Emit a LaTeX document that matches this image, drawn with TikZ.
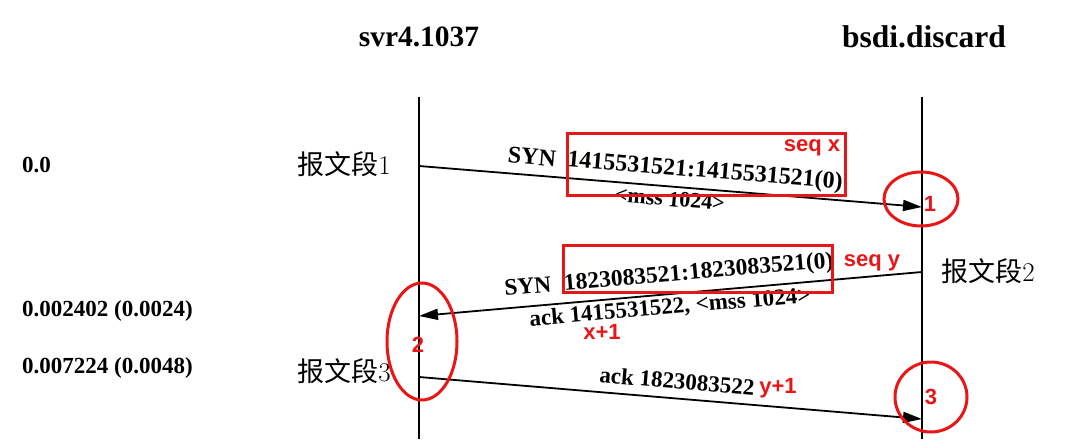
\documentclass[tikz,border=0pt]{standalone}
\usepackage{fontspec}
\newfontfamily\cjk{Noto Sans CJK SC}
\newfontfamily\redsans{Liberation Sans}
\newfontfamily\scan{Liberation Serif}
\usetikzlibrary{arrows.meta,shapes.geometric}
\definecolor{mark}{RGB}{232,22,22}
\begin{document}
\begin{tikzpicture}[x=1pt,y=-1pt,
  lifeline/.style={line width=1.6pt},
  msg/.style={line width=1.8pt,-{Triangle[length=19pt,width=11pt]}},
  hdr/.style={font=\scan\bfseries\fontsize{29.5}{33}\selectfont, inner sep=0},
  tlabel/.style={font=\scan\bfseries\fontsize{23}{26}\selectfont, inner sep=0, anchor=west},
  seglabel/.style={font=\fontsize{27}{31}\selectfont, inner sep=0},
  msglabel/.style={font=\scan\bfseries\fontsize{24}{27}\selectfont, inner sep=0},
  redbox/.style={draw=mark, line width=3pt, inner sep=0},
  redring/.style={draw=mark, line width=3pt, ellipse, inner sep=0},
  redtext/.style={text=mark, font=\redsans\bfseries\fontsize{22}{24}\selectfont, inner sep=0}]
\useasboundingbox (0,0) rectangle (1073,439);

% headers
\node[hdr] (hA) at (419,37) {svr4.1037};
\node[hdr, font=\scan\bfseries\fontsize{31.5}{35}\selectfont] (hB) at (924,37) {bsdi.discard};

% lifelines
\coordinate (Atop) at (419,97);
\coordinate (Abot) at (419,439);
\coordinate (Btop) at (922,97);
\coordinate (Bbot) at (922,439);
\draw[lifeline] (Atop) -- (Abot);
\draw[lifeline] (Btop) -- (Bbot);

% time labels
\node[tlabel] (t1) at (22,165) {0.0};
\node[tlabel] (t2) at (22,311) {0.002402 (0.0024)};
\node[tlabel] (t3) at (22,368) {0.007224 (0.0048)};

% segment labels
\node[seglabel] (s1) at (344,164) {{\cjk 报文段}1};
\node[seglabel] (s2) at (988,271) {{\cjk 报文段}2};
\node[seglabel] (s3) at (344,371) {{\cjk 报文段}3};

% messages
\coordinate (m1s) at (419,166);
\coordinate (m1e) at (922,207);
\coordinate (m2s) at (922,272);
\coordinate (m2e) at (419,316);
\coordinate (m3s) at (419,377);
\coordinate (m3e) at (922,419);
\draw[msg] (m1s) -- (m1e);
\draw[msg] (m2s) -- (m2e);
\draw[msg] (m3s) -- (m3e);

% message labels
\node[msglabel, rotate=-4.7] (l1a) at (532,157) {SYN};
\node[msglabel, rotate=-4.7] (l1b) at (705,172) {1415531521:1415531521(0)};
\node[msglabel, rotate=-4.7, font=\scan\bfseries\fontsize{22}{25}\selectfont] (l1c) at (670,199) {<mss 1024>};
\node[msglabel, rotate=4.9, font=\scan\bfseries\fontsize{23.5}{27}\selectfont] (l2a) at (669,276) {SYN\hspace{0.55em}1823083521:1823083521(0)};
\node[msglabel, rotate=4.9, font=\scan\bfseries\fontsize{23}{26}\selectfont] (l2b) at (670,308) {ack 1415531522, <mss 1024>};
\node[msglabel, rotate=-4.7, font=\scan\bfseries\fontsize{23}{26}\selectfont] (l3a) at (677,381) {ack 1823083522};

% red annotations
\node[redbox, minimum width=278pt, minimum height=62pt] (box1) at (706,164) {};
\node[redbox, minimum width=269pt, minimum height=47pt] (box2) at (697.5,268.5) {};
\node[redring, minimum width=74pt, minimum height=54pt] (c1) at (921,199) {};
\node[redring, minimum width=70pt, minimum height=117pt] (c2) at (422,341.5) {};
\node[redring, minimum width=72pt, minimum height=70pt] (c3) at (931,397) {};
\node[redtext] (n1) at (930,204) {1};
\node[redtext] (n2) at (418,345) {2};
\node[redtext] (n3) at (931,397) {3};
\node[redtext] (sx) at (812,148) {seq x};
\node[redtext] (sy) at (872,263) {seq y};
\node[redtext] (x1) at (602,332) {x+1};
\node[redtext] (y1) at (778,388) {y+1};
\end{tikzpicture}
\end{document}
